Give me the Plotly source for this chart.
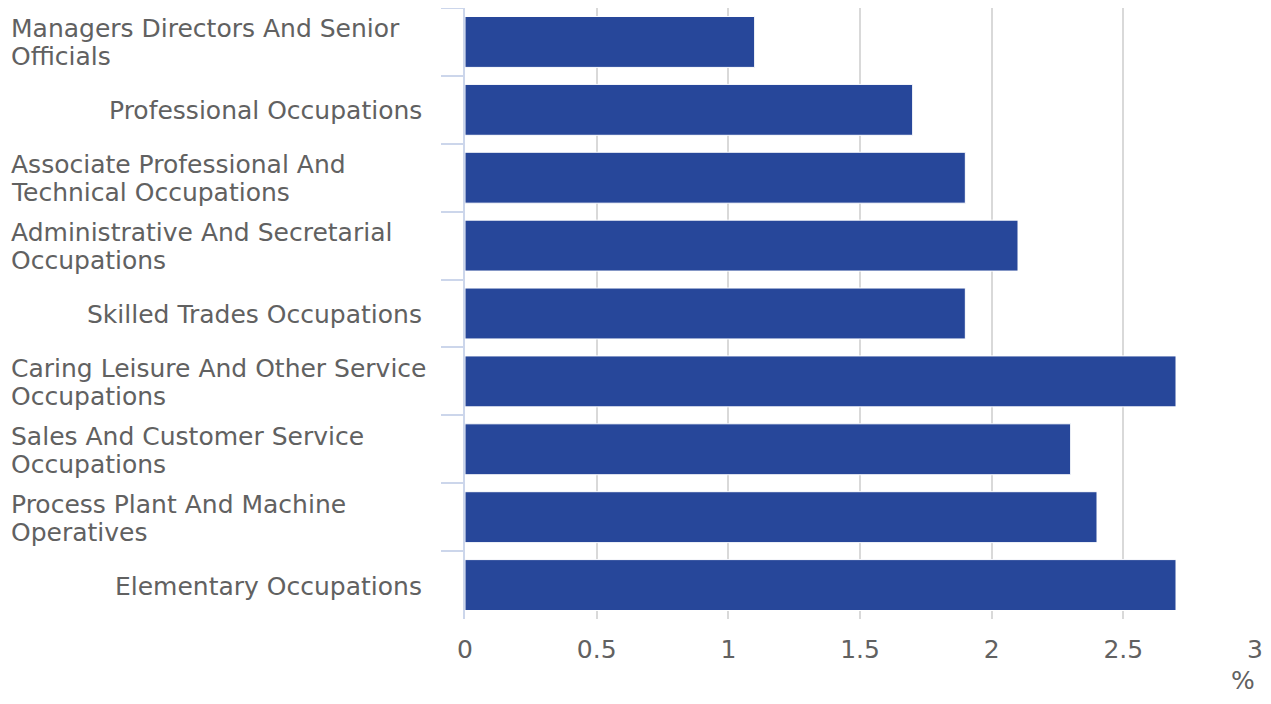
import plotly.graph_objects as go

categories = [
    "Managers Directors And Senior Officials",
    "Professional Occupations",
    "Associate Professional And Technical Occupations",
    "Administrative And Secretarial Occupations",
    "Skilled Trades Occupations",
    "Caring Leisure And Other Service Occupations",
    "Sales And Customer Service Occupations",
    "Process Plant And Machine Operatives",
    "Elementary Occupations",
]
label_lines = [
    ["Managers Directors And Senior", "Officials"],
    ["Professional Occupations"],
    ["Associate Professional And", "Technical Occupations"],
    ["Administrative And Secretarial", "Occupations"],
    ["Skilled Trades Occupations"],
    ["Caring Leisure And Other Service", "Occupations"],
    ["Sales And Customer Service", "Occupations"],
    ["Process Plant And Machine", "Operatives"],
    ["Elementary Occupations"],
]
values = [1.1, 1.7, 1.9, 2.1, 1.9, 2.7, 2.3, 2.4, 2.7]
x_ticks = [0, 0.5, 1, 1.5, 2, 2.5, 3]
x_tick_labels = ["0", "0.5", "1", "1.5", "2", "2.5", "3"]

FONT = "DejaVu Sans"
GRAY = "#616161"
FS = 25
OFF = 8  # page body margin
W, H = 1271 - 2 * OFF, 704 - 2 * OFF
L, T = 465 - OFF, 0
R = W - (1255 - OFF)
B = H - (619 - OFF)
PW = W - L - R
PH = H - T - B

def px_x(sx):
    return (sx - OFF - L) / PW

def px_y(sy):
    return 1 - (sy - OFF - T) / PH

fig = go.Figure(go.Bar(
    x=values, y=categories, orientation="h",
    marker=dict(color="#27479A", line=dict(color="#ffffff", width=1)),
    hoverinfo="x+y",
))

annotations = []
for c, lines in zip(categories, label_lines):
    if len(lines) > 1:
        for i, ln in enumerate(lines):
            annotations.append(dict(xref="paper", yref="y", x=px_x(9), y=c, text=ln,
                                    xanchor="left", yanchor="middle", showarrow=False,
                                    yshift=13 - 28 * i,
                                    font=dict(family=FONT, size=FS, color=GRAY)))
    else:
        annotations.append(dict(xref="paper", yref="y", x=px_x(424), y=c, text=lines[0],
                                xanchor="right", yanchor="middle", showarrow=False, yshift=-1,
                                font=dict(family=FONT, size=FS, color=GRAY)))
annotations.append(dict(xref="paper", yref="paper", x=px_x(1256), y=px_y(696),
                        text="%", showarrow=False, xanchor="right", yanchor="bottom",
                        borderpad=0,
                        font=dict(family=FONT, size=FS, color=GRAY)))

fig.update_layout(
    width=W, height=H,
    margin=dict(l=L, r=R, t=T, b=B),
    paper_bgcolor="white", plot_bgcolor="white",
    bargap=0.25,
    showlegend=False,
    annotations=annotations,
    font=dict(family=FONT, size=FS, color=GRAY),
    xaxis=dict(range=[0, 3], tickvals=x_ticks, ticktext=x_tick_labels,
               showgrid=True, gridcolor="#d9d9d9", gridwidth=2, zeroline=False,
               showline=False, ticks="outside", ticklen=8, tickcolor="rgba(0,0,0,0)",
               tickfont=dict(family=FONT, size=FS, color=GRAY)),
    yaxis=dict(autorange="reversed", showticklabels=False, showgrid=False,
               showline=True, linecolor="#ccd6eb", linewidth=2,
               ticks="outside", tickson="boundaries", ticklen=22, tickcolor="#ccd6eb", tickwidth=2),
)

fig.write_html("out.html")
